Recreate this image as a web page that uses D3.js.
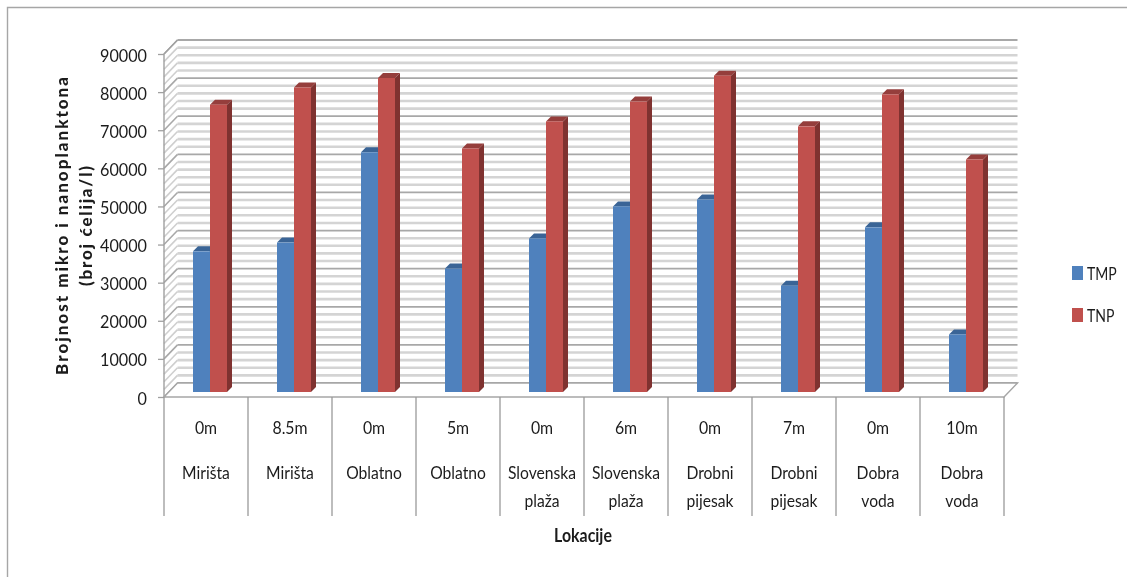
<!DOCTYPE html>
<html><head><meta charset="utf-8">
<script src="https://cdn.jsdelivr.net/npm/d3@7"></script>
<style>
html,body{margin:0;padding:0;background:#fff}
svg{display:block;filter:blur(0.45px)}
text{font-family:Lato,"Open Sans",sans-serif;fill:#1c1c1c}
</style></head><body><svg id="c" width="1127" height="577"></svg>
<script>
const depthLabels=["0m","8.5m","0m","5m","0m","6m","0m","7m","0m","10m"];
const siteLabels=[["Mirišta"],["Mirišta"],["Oblatno"],["Oblatno"],["Slovenska","plaža"],["Slovenska","plaža"],["Drobni","pijesak"],["Drobni","pijesak"],["Dobra","voda"],["Dobra","voda"]];
const seriesNames=["TMP","TNP"];
const tmp=[36900,39200,62900,32400,40300,48700,50500,27900,43200,15100];
const tnp=[75400,79900,82400,63900,71000,76200,83000,69700,78100,61000];
const majorTicks=[0,10000,20000,30000,40000,50000,60000,70000,80000,90000];
const minorStep=2000;
const colors={TMP:["#4f81bd","#3a6496","#335a88"],TNP:["#c0504d","#953e3c","#7f3230"]};

const svg=d3.select("#c");
const y=d3.scaleLinear().domain([0,90000]).range([397,54]);
const x=d3.scaleBand().domain(d3.range(10)).range([164,1004]);
const wall={dx:13.5,dy:-14};
const barOff={dx:4,dy:-5}, barD={dx:5,dy:-5};

function label(parent,px,py,str,size,sx,anchor,weight){
  return parent.append("text").attr("transform",`translate(${px},${py}) scale(${sx},1)`)
    .attr("text-anchor",anchor||"middle").attr("font-size",size).attr("font-weight",weight||400).text(str);
}

svg.append("path").attr("d","M7.5,577V7.5H1127").attr("fill","none").attr("stroke","#a6a6a6").attr("stroke-width",1.4);

const g=svg.append("g");
const minors=d3.range(0,90001,minorStep);
const xL=x.range()[0], xR=x.range()[1];
minors.forEach(v=>{
  const major=v%10000===0;
  const yy=y(v)+wall.dy;
  g.append("line").attr("x1",xL+wall.dx).attr("x2",xR+wall.dx).attr("y1",yy).attr("y2",yy)
   .attr("stroke",major?"#a8a8a8":"#d4d4d4").attr("stroke-width",major?1.8:2.6);
  g.append("line").attr("x1",xL).attr("x2",xL+wall.dx).attr("y1",y(v)).attr("y2",yy)
   .attr("stroke",major?"#a8a8a8":"#cfcfcf").attr("stroke-width",1.6);
});
g.append("path").attr("d",`M${xL},${y(0)}L${xL},${y(90000)}L${xL+wall.dx},${y(90000)+wall.dy}`)
 .attr("fill","none").attr("stroke","#a0a0a0").attr("stroke-width",1.4);
g.append("path").attr("d",`M${xL+wall.dx},${y(0)+wall.dy}L${xL},${y(0)}L${xR},${y(0)}L${xR+wall.dx},${y(0)+wall.dy}Z`)
 .attr("fill","#fff").attr("stroke","#a6a6a6").attr("stroke-width",1.4);

const barW=17;
function bar(i,v,name,k){
  const [f,t,s]=colors[name];
  const cx=x(i)+x.bandwidth()/2+barOff.dx;
  const x0=cx+(k-1)*barW, x1=x0+barW;
  const yb=y(0)+barOff.dy, yt=y(v)+barOff.dy;
  const b=svg.append("g");
  b.append("path").attr("d",`M${x0},${yt}L${x0+barD.dx},${yt+barD.dy}L${x1+barD.dx},${yt+barD.dy}L${x1},${yt}Z`).attr("fill",t);
  b.append("path").attr("d",`M${x1},${yt}L${x1+barD.dx},${yt+barD.dy}L${x1+barD.dx},${yb+barD.dy}L${x1},${yb}Z`).attr("fill",s);
  b.append("rect").attr("x",x0).attr("y",yt).attr("width",barW).attr("height",yb-yt).attr("fill",f);
}
d3.range(10).forEach(i=>{bar(i,tmp[i],"TMP",0);bar(i,tnp[i],"TNP",1);});

const ax=svg.append("g").attr("transform",`translate(${xL},0)`)
 .call(d3.axisLeft(y).tickValues(majorTicks).tickFormat(()=>"").tickSize(6));
ax.select(".domain").remove();
ax.selectAll("line").attr("stroke","#a0a0a0").attr("stroke-width",1.3);
majorTicks.forEach(v=>label(svg,147,y(v)+7.5,String(v),18,0.9,"end"));

const cat=svg.append("g");
x.domain().concat([10]).forEach(i=>{
  const xx=i<10?x(i):xR;
  cat.append("line").attr("x1",xx).attr("x2",xx).attr("y1",y(0)).attr("y2",516).attr("stroke","#9a9a9a").attr("stroke-width",1.3);
});
d3.range(10).forEach(i=>{
  const cx=x(i)+x.bandwidth()/2;
  label(cat,cx,434,depthLabels[i],18,0.88);
  const ls=siteLabels[i];
  ls.forEach((l,j)=>label(cat,cx,479+j*28,l,18,0.87));
});

label(svg,583,542,"Lokacije",18.5,0.86,"middle",700);
const yt=svg.append("g").attr("transform","translate(68,226) rotate(-90)");
yt.append("text").attr("text-anchor","middle").attr("font-size",17).attr("font-weight",900)
  .attr("textLength",298).attr("lengthAdjust","spacing").text("Brojnost mikro i nanoplanktona");
yt.append("text").attr("y",24).attr("text-anchor","middle").attr("font-size",17).attr("font-weight",900)
  .attr("textLength",120).attr("lengthAdjust","spacing").text("(broj ćelija/l)");

seriesNames.forEach((n,i)=>{
  const ly=266+i*42;
  svg.append("rect").attr("x",1072).attr("y",ly).attr("width",11).attr("height",14).attr("fill",colors[n][0]);
  label(svg,1087,ly+14,n,18,0.78,"start");
});
</script></body></html>
